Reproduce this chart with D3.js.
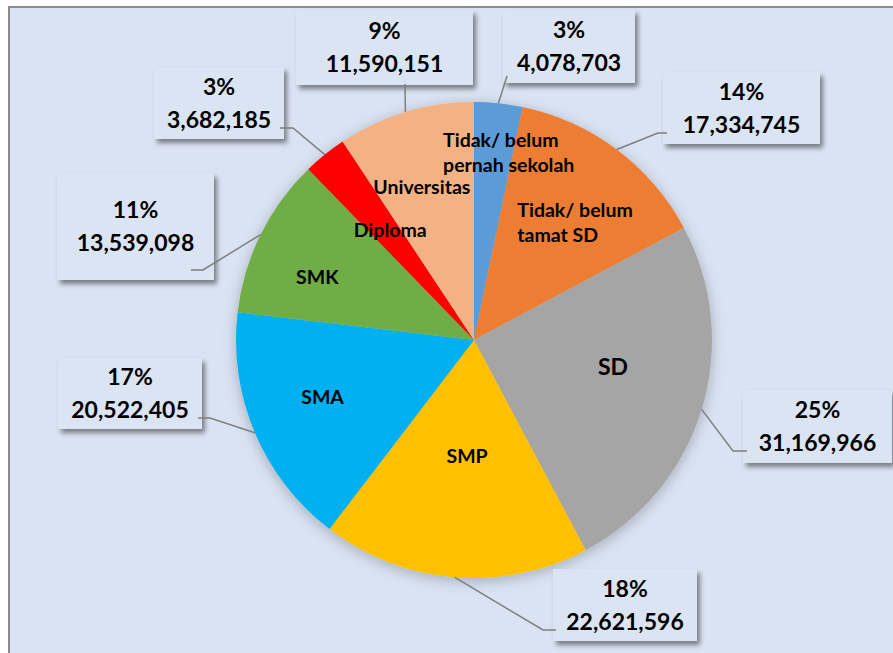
<!DOCTYPE html>
<html><head><meta charset="utf-8">
<script src="https://cdn.jsdelivr.net/npm/d3@7"></script>
<style>html,body{margin:0;padding:0;background:#fff;}svg{display:block;}</style>
</head><body>
<svg id="chart" width="893" height="653"></svg>
<script>
// ---- data ----
const categories = ["Tidak/ belum pernah sekolah", "Tidak/ belum tamat SD", "SD", "SMP", "SMA", "SMK", "Diploma", "Universitas"];
const values = [4078703, 17334745, 31169966, 22621596, 20522405, 13539098, 3682185, 11590151];
const percentLabels = ["3%", "14%", "25%", "18%", "17%", "11%", "3%", "9%"];
const innerLabelLines = [["Tidak/ belum", "pernah sekolah"], ["Tidak/ belum", "tamat SD"], ["SD"], ["SMP"], ["SMA"], ["SMK"], ["Diploma"], ["Universitas"]];
const colors = ["#5b9bd5", "#ed7d31", "#a5a5a5", "#ffc000", "#00b0f0", "#70ad47", "#ff0000", "#f4b183"];

// ---- layout (not data) ----
const cx = 474, cy = 340, R = 238;
// inner label: [angle deg clockwise from top, radius fraction, font size]
const innerPos = [[10.5, 0.80, 19.5], [40.7, 0.651, 19.5], [101, 0.595, 23], [183.4, 0.49, 19.5], [249.4, 0.68, 19.5], [292, 0.71, 19.5], [322.6, 0.58, 19.5], [341.2, 0.68, 19.5]];
// callout boxes: [x, y, w, h, attachX, attachY, elbowX (or null)]
const boxes = [
  [503, 10, 132, 73, 507, 76, null],
  [663, 72, 157, 72, 667, 133, 658],
  [743, 390, 149, 73, 747, 451, 733],
  [553, 569, 144, 72, 556, 630, 543],
  [58, 358, 144, 71, 198, 418, 210],
  [57, 173, 157, 107, 191, 270, 203],
  [154, 67, 130, 72, 280, 128, 293],
  [296, 10, 177, 75, 405, 84, null]
];

const svg = d3.select("#chart");
const defs = svg.append("defs");
const f = defs.append("filter").attr("id", "boxShadow").attr("x", "-20%").attr("y", "-20%").attr("width", "150%").attr("height", "150%");
f.append("feDropShadow").attr("dx", 3).attr("dy", 4).attr("stdDeviation", 2.5).attr("flood-color", "#000").attr("flood-opacity", 0.45);
const pf = defs.append("filter").attr("id", "pieShadow").attr("x", "-20%").attr("y", "-20%").attr("width", "140%").attr("height", "140%");
pf.append("feDropShadow").attr("dx", 0).attr("dy", 3).attr("stdDeviation", 7).attr("flood-color", "#000").attr("flood-opacity", 0.25);

// chart area
svg.append("rect").attr("x", 9).attr("y", 7).attr("width", 900).attr("height", 660)
  .attr("fill", "#dae3f3").attr("stroke", "#8c8c8c").attr("stroke-width", 2);

const pie = d3.pie().sort(null).value(d => d)(values);
const arc = d3.arc().innerRadius(0).outerRadius(R);

const g = svg.append("g").attr("transform", `translate(${cx},${cy})`);
const slices = g.append("g").attr("filter", "url(#pieShadow)");
slices.selectAll("path").data(pie).join("path")
  .attr("d", arc).attr("fill", (d, i) => colors[i]);

// inner labels
const font = "Lato, 'Open Sans', sans-serif";
pie.forEach((d, i) => {
  const [ang, rf, fs] = innerPos[i];
  const a = ang * Math.PI / 180;
  const x = Math.sin(a) * R * rf, y = -Math.cos(a) * R * rf;
  const lines = innerLabelLines[i];
  const lh = 25;
  const t = g.append("text").attr("font-family", font).attr("font-weight", 700)
    .attr("font-size", fs).attr("fill", "#000");
  if (lines.length === 1) {
    t.attr("text-anchor", "middle").attr("x", x).attr("y", y).attr("dy", "0.35em").text(lines[0]);
  } else {
    const tmp = t.append("tspan").text(lines[1]);
    const w = Math.max(...lines.map(l => { tmp.text(l); return tmp.node().getComputedTextLength(); }));
    tmp.remove();
    lines.forEach((l, k) => {
      t.append("tspan").attr("x", x - w / 2).attr("y", y + (k - (lines.length - 1) / 2) * lh).attr("dy", "0.35em").text(l);
    });
  }
});

// callout boxes with leader lines
const fmt = d3.format(",");
pie.forEach((d, i) => {
  const [bx, by, bw, bh, ax, ay, ex] = boxes[i];
  svg.append("rect").attr("x", bx).attr("y", by).attr("width", bw).attr("height", bh)
    .attr("fill", "#dbe4f3").attr("filter", "url(#boxShadow)");
  const mid = (d.startAngle + d.endAngle) / 2;
  const px = cx + Math.sin(mid) * R, py = cy - Math.cos(mid) * R;
  const pts = ex === null ? [[ax, ay], [px, py]] : [[ax, ay], [ex, ay], [px, py]];
  svg.append("path").attr("d", d3.line()(pts)).attr("fill", "none")
    .attr("stroke", "#7f7f7f").attr("stroke-width", 1.5);
  const tcx = bx + bw / 2, tcy = by + bh / 2;
  const t = svg.append("text").attr("font-family", font).attr("font-weight", 700)
    .attr("font-size", 23).attr("fill", "#000").attr("text-anchor", "middle");
  t.append("tspan").attr("x", tcx).attr("y", tcy - 8.5).text(percentLabels[i]);
  t.append("tspan").attr("x", tcx).attr("y", tcy + 24.5).text(fmt(values[i]));
});
</script>
</body></html>
